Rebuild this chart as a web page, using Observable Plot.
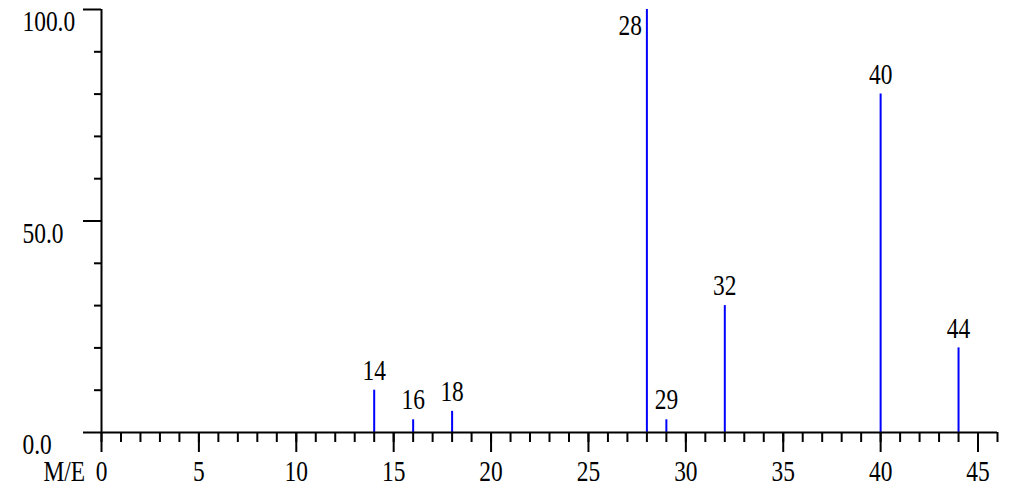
<!DOCTYPE html>
<html>
<head>
<meta charset="utf-8">
<script src="https://cdn.jsdelivr.net/npm/d3@7"></script>
<script src="https://cdn.jsdelivr.net/npm/@observablehq/plot@0.6"></script>
<style>
  html, body { margin: 0; padding: 0; background: #ffffff; }
  svg { display: block; }
</style>
</head>
<body>
<script>
// Mass spectrum data
const masses = [14, 16, 18, 28, 29, 32, 40, 44];
const intensities = [10, 3, 5, 100, 3, 30, 80, 20];
const xMajorTicks = [0, 5, 10, 15, 20, 25, 30, 35, 40, 45];
const xMinorTicks = d3.range(0, 47);
const yMajorTicks = [0, 50, 100];
const yMinorTicks = [10, 20, 30, 40, 60, 70, 80, 90];
const yTickLabels = ["0.0", "50.0", "100.0"];
const xAxisLabel = "M/E";

const peaks = masses.map((m, i) => ({mass: m, value: intensities[i]}));
const maxVal = d3.max(intensities);
const yLabels = yMajorTicks.map((v, i) => ({v, label: yTickLabels[i]}));

const chart = Plot.plot({
  width: 1015,
  height: 496,
  marginLeft: 101,
  marginRight: 18,
  marginTop: 9,
  marginBottom: 64,
  x: {domain: [0, 46], axis: null},
  y: {domain: [0, 100], axis: null},
  style: {fontFamily: "'Liberation Serif', 'DejaVu Serif', serif", fontSize: "30px", color: "#000", background: "#fff", overflow: "visible"},
  marks: [
    // peaks
    Plot.ruleX(peaks, {x: "mass", y1: 0, y2: "value", stroke: "#0000ff", strokeWidth: 2}),
    // axis lines
    Plot.ruleX([0], {y1: 0, y2: 100, stroke: "#000", strokeWidth: 2}),
    Plot.ruleY([0], {x1: 0, x2: 46, stroke: "#000", strokeWidth: 2}),
    // x ticks
    Plot.ruleX(xMinorTicks, {x: d => d, insetTop: 413, dy: 10, stroke: "#000", strokeWidth: 2}),
    Plot.ruleX(xMajorTicks, {x: d => d, insetTop: 403, dy: 20, stroke: "#000", strokeWidth: 2}),
    // y ticks
    Plot.ruleY(yMinorTicks, {y: d => d, insetRight: 889, dx: -7, stroke: "#000", strokeWidth: 2}),
    Plot.ruleY(yMajorTicks, {y: d => d, insetRight: 878, dx: -18, stroke: "#000", strokeWidth: 2}),
    // x tick labels
    Plot.text(xMajorTicks, {x: d => d, frameAnchor: "bottom", dy: 48, text: d => String(d), fill: "#000"}),
    Plot.text([xAxisLabel], {frameAnchor: "bottom-left", dx: -58, dy: 48, textAnchor: "start", text: d => d, fill: "#000"}),
    // y tick labels
    Plot.text(yLabels, {y: "v", frameAnchor: "left", dx: -79, dy: 12, textAnchor: "start", text: "label", fill: "#000"}),
    // peak labels
    Plot.text(peaks.filter(p => p.value < maxVal), {x: "mass", y: "value", dy: -20, text: d => String(d.mass), fill: "#000"}),
    Plot.text(peaks.filter(p => p.value >= maxVal), {x: "mass", y: "value", dx: -5, dy: 16, textAnchor: "end", text: d => String(d.mass), fill: "#000"})
  ]
});

document.body.append(chart);

// narrow the serif glyphs horizontally to match the condensed look of the original
chart.querySelectorAll("text").forEach(el => {
  const L = el.getComputedTextLength();
  if (L > 0) {
    el.setAttribute("textLength", (L * 0.78).toFixed(1));
    el.setAttribute("lengthAdjust", "spacingAndGlyphs");
  }
});
</script>
</body>
</html>
